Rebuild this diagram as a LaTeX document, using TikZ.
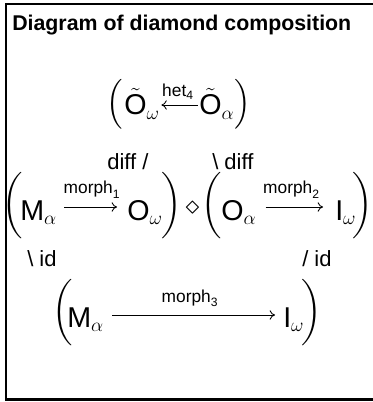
\documentclass[tikz,border=0pt]{standalone}
\usepackage{amsmath}
\usepackage[no-math]{fontspec}
\setmainfont{Liberation Sans}
\usetikzlibrary{arrows.meta}
\newcommand{\myparL}[1]{$\left(\vcenter{\hrule height #1 width 0pt}\right.$}
\newcommand{\myparR}[1]{$\left.\vcenter{\hrule height #1 width 0pt}\right)$}
\begin{document}
\begin{tikzpicture}[x=0.75pt,y=-0.75pt,
  titletext/.style={font=\fontsize{16}{19}\selectfont\bfseries, anchor=base west, inner sep=0pt},
  term/.style={font=\fontsize{21.5}{25}\selectfont, anchor=base west, inner sep=0pt},
  paren/.style={font=\fontsize{21.5}{25}\selectfont, inner sep=0pt},
  arrlbl/.style={font=\fontsize{13}{15}\selectfont, anchor=base, inner sep=0pt},
  sidelbl/.style={font=\fontsize{16.5}{19}\selectfont, anchor=base west, inner sep=0pt},
  arr/.style={line width=0.65pt, -{To[length=4pt,width=7pt]}},
  frameline/.style={line width=1.6pt}]
\useasboundingbox (0,0) rectangle (373,402);
\draw[frameline] (385,4) -- (6,4) -- (6,399.5) -- (385,399.5);
\node[titletext] (title) at (12,31) {Diagram of diamond composition};
% top row
\node[paren] (pL0) at (116,104) {\myparL{40pt}};
\node[term] (Ow0) at (124,115) {$\tilde{\text{O}}_{\omega}$};
\node[term] (Oa0) at (199,115) {$\tilde{\text{O}}_{\alpha}$};
\node[paren] (pR0) at (242,104) {\myparR{40pt}};
\draw[arr] ([shift={(-1.5,-10)}]Oa0.base west) -- ([shift={(1.5,-10)}]Ow0.base east);
\node[arrlbl] (het) at (178,97) {$\text{het}_{\text{4}}$};
% side labels
\node[sidelbl] (diffL) at (107,170) {diff /};
\node[sidelbl] (diffR) at (212,170) {\textbackslash{} diff};
% middle row
\node[paren] (pL1) at (13.5,206) {\myparL{50pt}};
\node[term] (Ma1) at (20,220) {$\text{M}_{\alpha}$};
\node[term] (Ow1) at (127,220) {$\text{O}_{\omega}$};
\node[paren] (pR1) at (171,206) {\myparR{50pt}};
\node[font=\fontsize{20}{24}\selectfont, inner sep=0pt] (dmd) at (192.5,208) {$\diamond$};
\node[paren] (pL2) at (212,206) {\myparL{50pt}};
\node[term] (Oa2) at (221,220) {$\text{O}_{\alpha}$};
\node[term] (Iw2) at (335,220) {$\text{I}_{\omega}$};
\node[paren] (pR2) at (362,206) {\myparR{50pt}};
\draw[arr] ([shift={(7,-13)}]Ma1.base east) -- ([shift={(-10,-13)}]Ow1.base west);
\draw[arr] ([shift={(9,-13)}]Oa2.base east) -- ([shift={(-12,-13)}]Iw2.base west);
\node[arrlbl] (m1) at (92,194) {$\text{morph}_{\text{1}}$};
\node[arrlbl] (m2) at (291.5,194) {$\text{morph}_{\text{2}}$};
% side labels
\node[sidelbl] (idL) at (27,266) {\textbackslash{} id};
\node[sidelbl] (idR) at (302,266) {/ id};
% bottom row
\node[paren] (pL3) at (63,313) {\myparL{50pt}};
\node[term] (Ma3) at (67,327) {$\text{M}_{\alpha}$};
\node[term] (Iw3) at (283,327) {$\text{I}_{\omega}$};
\node[paren] (pR3) at (311,313) {\myparR{50pt}};
\draw[arr] ([shift={(8,-12)}]Ma3.base east) -- ([shift={(-8,-12)}]Iw3.base west);
\node[arrlbl] (m3) at (190,302) {$\text{morph}_{\text{3}}$};
\end{tikzpicture}
\end{document}
